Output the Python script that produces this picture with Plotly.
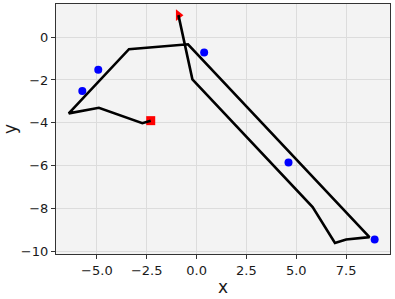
import plotly.graph_objects as go

# Trajectory path (start = triangle, end = square)
path_x = [-0.91, -0.21, 5.82, 6.94, 7.50, 8.67, -0.43, -3.39, -6.41, -4.90, -2.72, -2.30]
path_y = [1.03, -1.97, -7.94, -9.61, -9.45, -9.34, -0.33, -0.56, -3.56, -3.30, -4.02, -3.90]

# Blue points
pts_x = [-4.93, -5.73, 0.38, 4.61, 8.93]
pts_y = [-1.52, -2.52, -0.72, -5.86, -9.45]

# Start / end markers
start_x = [-0.91]
start_y = [1.03]
end_x = [-2.30]
end_y = [-3.90]

x_ticks = [-5.0, -2.5, 0.0, 2.5, 5.0, 7.5]
x_ticklabels = ["\u22125.0", "\u22122.5", "0.0", "2.5", "5.0", "7.5"]
y_ticks = [-10, -8, -6, -4, -2, 0]
y_ticklabels = ["\u221210", "\u22128", "\u22126", "\u22124", "\u22122", "0"]

FONT = "DejaVu Sans"

fig = go.Figure()
fig.add_trace(go.Scatter(x=pts_x, y=pts_y, mode="markers",
                         marker=dict(color="#0000ff", size=8, line=dict(width=0)),
                         showlegend=False))
fig.add_trace(go.Scatter(x=start_x, y=start_y, mode="markers",
                         marker=dict(color="#ff0000", size=10, symbol="triangle-right", line=dict(width=0)),
                         showlegend=False))
fig.add_trace(go.Scatter(x=end_x, y=end_y, mode="markers",
                         marker=dict(color="#ff0000", size=9, symbol="square", line=dict(width=0)),
                         showlegend=False))
fig.add_trace(go.Scatter(x=path_x, y=path_y, mode="lines",
                         line=dict(color="black", width=2.6),
                         showlegend=False))

axis_common = dict(
    automargin=False,
    showgrid=True, gridcolor="#dcdcdc", gridwidth=1,
    zeroline=False,
    showline=True, linecolor="#333333", linewidth=1.2, mirror=True,
    ticks="outside", ticklen=4, tickwidth=1, tickcolor="#333333",
    tickfont=dict(family=FONT, size=13, color="#1a1a1a"),
)

fig.update_layout(
    width=395, height=299,
    margin=dict(l=56, r=5, t=4, b=45),
    paper_bgcolor="white",
    plot_bgcolor="#f3f3f3",
    font=dict(family=FONT),
    xaxis=dict(range=[-7.05, 9.70], tickvals=x_ticks, ticktext=x_ticklabels,
               title=dict(text="x", font=dict(family=FONT, size=17, color="#1a1a1a"), standoff=4),
               **axis_common),
    yaxis=dict(range=[-10.13, 1.55], tickvals=y_ticks, ticktext=y_ticklabels,
               title=dict(text="y", font=dict(family=FONT, size=17, color="#1a1a1a"), standoff=6),
               **axis_common),
)

fig.write_html("out.html", config={"displayModeBar": False},
               post_script="document.body.style.margin='0';")
